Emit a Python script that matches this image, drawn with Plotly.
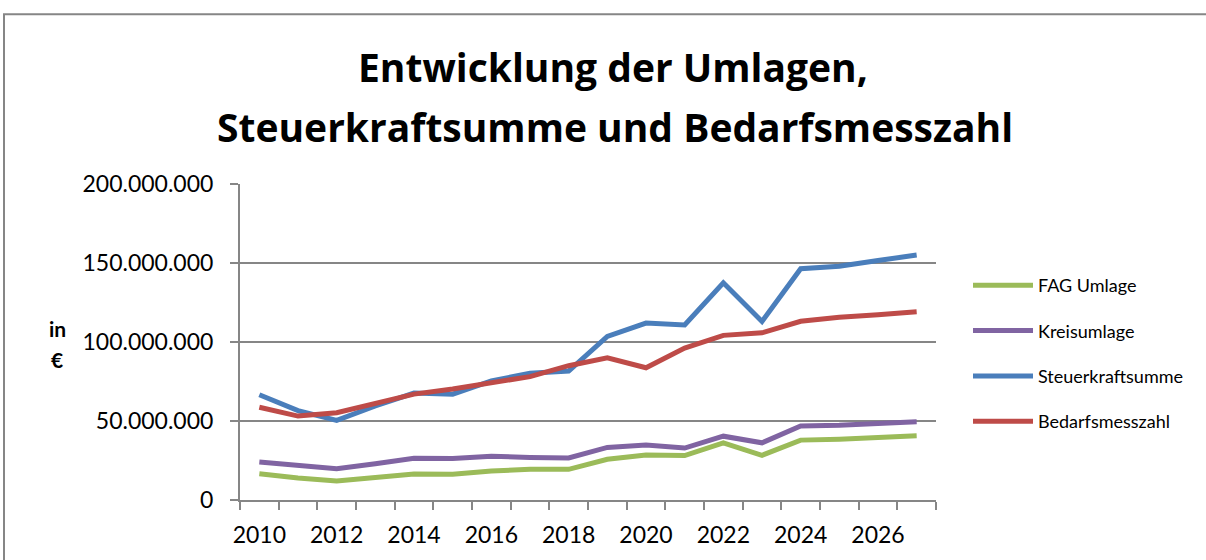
import plotly.graph_objects as go

years = list(range(2010, 2028))
fag_umlage = [16.6, 13.9, 12.1, 14.6, 16.4, 16.3, 18.3, 19.4, 19.4, 25.8, 28.5, 28.1, 36.2, 28.3, 37.9, 38.5, 39.6, 40.6]
kreisumlage = [24.1, 22.3, 19.8, 22.9, 26.4, 26.2, 27.7, 26.9, 26.6, 33.3, 34.8, 32.9, 40.4, 36.2, 46.9, 47.3, 48.3, 49.6]
steuerkraftsumme = [66.6, 56.6, 50.4, 59.5, 67.7, 67.0, 75.4, 80.2, 81.6, 103.5, 112.0, 110.8, 137.5, 113.0, 146.4, 147.9, 151.6, 155.0]
bedarfsmesszahl = [58.7, 53.1, 55.2, 60.8, 67.0, 70.2, 74.4, 78.1, 85.0, 90.0, 83.7, 96.2, 104.2, 105.8, 113.1, 115.6, 117.3, 119.1]

series_names = ["FAG Umlage", "Kreisumlage", "Steuerkraftsumme", "Bedarfsmesszahl"]
series_values = [fag_umlage, kreisumlage, steuerkraftsumme, bedarfsmesszahl]
colors = ["#9BBB59", "#8064A2", "#4A7EBB", "#BE4B48"]

y_tickvals = [0, 50e6, 100e6, 150e6, 200e6]
y_ticktext = ["0", "50.000.000", "100.000.000", "150.000.000", "200.000.000"]
x_tickvals = [2010, 2012, 2014, 2016, 2018, 2020, 2022, 2024, 2026]

W, H = 1206, 560
L, R, T, B = 240, 936, 184, 504


def px(x):
    return (x - L) / (R - L)


def py(y):
    return (B - y) / (B - T)


fig = go.Figure()
for i, (name, vals, col) in enumerate(zip(series_names, series_values, colors)):
    fig.add_trace(go.Scatter(
        x=years, y=[v * 1e6 for v in vals], name=name, mode="lines",
        line=dict(color=col, width=5), legendgroup=f"g{i}",
    ))

grid = "#868686"
fig.update_layout(
    width=W, height=H,
    margin=dict(l=L, r=W - R, t=T, b=H - B, pad=0),
    paper_bgcolor="white", plot_bgcolor="white",
    font=dict(family="Lato", color="black"),
    showlegend=True,
    legend=dict(
        x=px(968), y=py(268), xanchor="left", yanchor="top",
        font=dict(size=18, family="Lato", color="black"),
        tracegroupgap=19, bgcolor="rgba(0,0,0,0)", itemwidth=60,
    ),
    xaxis=dict(
        range=[2009.5, 2027.5], tickmode="array", tickvals=x_tickvals,
        ticktext=[str(v) for v in x_tickvals], ticks="", showgrid=False,
        showline=True, linecolor=grid, linewidth=2, zeroline=False,
        tickfont=dict(size=23, family="Lato"), ticklabelstandoff=13,
        minor=dict(tickmode="array", tickvals=[y - 0.5 for y in years] + [2027.5],
                   ticks="outside", ticklen=8, tickcolor=grid, tickwidth=2, showgrid=False),
    ),
    yaxis=dict(
        range=[0, 200e6], tickmode="array", tickvals=y_tickvals, ticktext=y_ticktext,
        ticks="outside", ticklen=8, tickcolor=grid, tickwidth=2,
        showgrid=True, gridcolor=grid, gridwidth=2,
        showline=True, linecolor=grid, linewidth=2, zeroline=False,
        tickfont=dict(size=23, family="Lato"), ticklabelstandoff=12,
    ),
    shapes=[dict(type="rect", xref="paper", yref="paper",
                 x0=px(4), x1=px(1300), y0=py(640), y1=py(12),
                 line=dict(color=grid, width=2), fillcolor="rgba(0,0,0,0)", layer="below")],
    annotations=[
        dict(text="<b>Entwicklung der Umlagen,</b>", xref="paper", yref="paper",
             x=px(613), y=py(65), xanchor="center", yanchor="middle",
             showarrow=False, font=dict(size=39, family="Open Sans", color="black")),
        dict(text="<b>Steuerkraftsumme und Bedarfsmesszahl</b>", xref="paper", yref="paper",
             x=px(615), y=py(126), xanchor="center", yanchor="middle",
             showarrow=False, font=dict(size=39, family="Open Sans", color="black")),
        dict(text="<b>in</b>", xref="paper", yref="paper",
             x=px(57), y=py(330), xanchor="center", yanchor="middle",
             showarrow=False, font=dict(size=21, family="Lato", color="black")),
        dict(text="<b>€</b>", xref="paper", yref="paper",
             x=px(57), y=py(362), xanchor="center", yanchor="middle",
             showarrow=False, font=dict(size=21, family="Lato", color="black")),
    ],
)

fig.write_html("out.html", config={"displayModeBar": False},
               post_script="document.body.style.margin='0px';")
